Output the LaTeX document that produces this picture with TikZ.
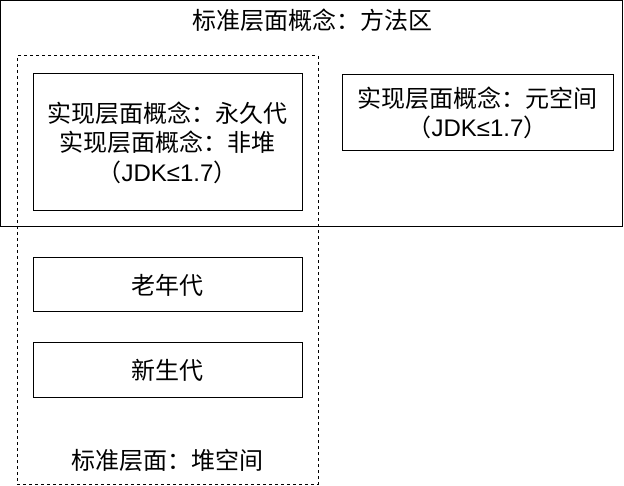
\documentclass[tikz,border=0pt]{standalone}
\usepackage{fontspec}
\setmainfont{Liberation Sans}
\newfontfamily\cjk{Noto Sans CJK SC}
\tikzset{
  box/.style={draw=black, line width=1pt, fill=none, inner sep=0pt, align=center,
    font=\fontsize{24}{29.5}\selectfont},
  dashbox/.style={draw=black, line width=1pt, dash pattern=on 3pt off 3pt, inner sep=0pt},
  lbl/.style={inner sep=0pt, align=center, font=\fontsize{24}{29.5}\selectfont}
}
\begin{document}
\begin{tikzpicture}[x=1pt,y=-1pt]
\useasboundingbox (0,0) rectangle (624,486);
\fill[white] (0,0) rectangle (624,486);
\node[box, minimum width=622, minimum height=226] (outer) at (311.5,113.5) {};
\node[lbl] (title) at (312,20) {\cjk 标准层面概念：方法区};
\node[dashbox, minimum width=301, minimum height=428] (heap) at (167.5,270) {};
\node[box, minimum width=269, minimum height=137] (perm) at (167.5,142.5)
  {\cjk 实现层面概念：永久代\\\cjk 实现层面概念：非堆\\{\cjk （}JDK≤1.7{\cjk ）}};
\node[box, minimum width=271, minimum height=76] (meta) at (477.5,113)
  {\cjk 实现层面概念：元空间\\{\cjk （}JDK≤1.7{\cjk ）}};
\node[box, minimum width=269, minimum height=54] (old) at (167.5,285) {\cjk 老年代};
\node[box, minimum width=269, minimum height=54] (young) at (167.5,370) {\cjk 新生代};
\node[lbl] (heaplbl) at (167,460) {\cjk 标准层面：堆空间};
\end{tikzpicture}
\end{document}
